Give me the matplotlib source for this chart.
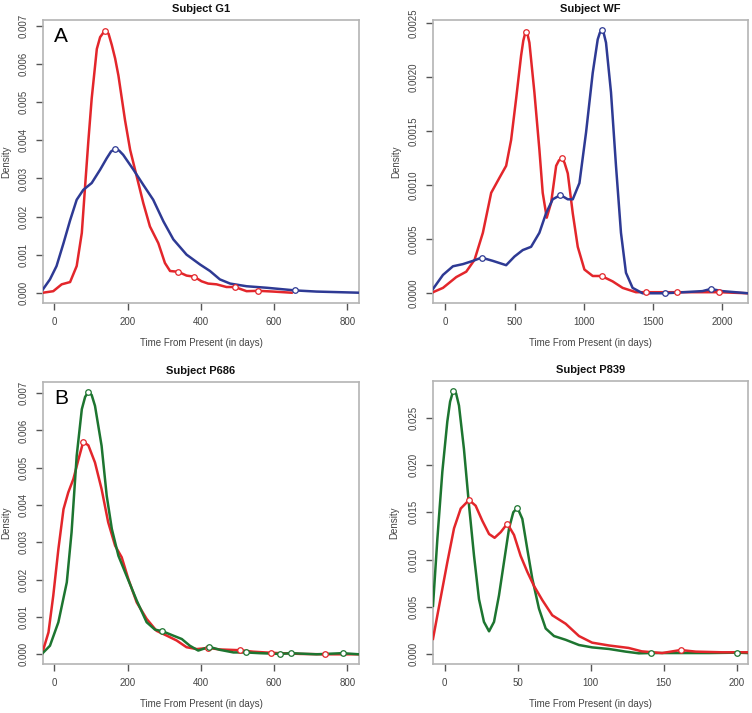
import matplotlib
matplotlib.use("Agg")
import matplotlib.pyplot as plt

plt.rcParams['font.family'] = ['Liberation Sans', 'DejaVu Sans']

RED = '#e3262b'
BLUE = '#2e3a94'
GREEN = '#1d7530'

# Subject G1
g1_red_x = [-31, -3, 20, 43, 61, 75, 84, 93, 102, 116, 125, 137, 148, 157, 166, 175, 193, 207, 225, 243,
            261, 284, 302, 316, 338, 361, 382, 402, 420, 443, 470, 493, 525, 557, 598, 648]
g1_red_y = [0.0, 0.00004, 0.00022, 0.00028, 0.0007, 0.00157, 0.0028, 0.0040, 0.0051, 0.0064, 0.00671,
            0.00687, 0.0068, 0.0065, 0.00615, 0.0057, 0.00453, 0.00375, 0.00305, 0.00235, 0.00174,
            0.0013, 0.00078, 0.00057, 0.00055, 0.00045, 0.00042, 0.0003, 0.00024, 0.00022, 0.00015,
            0.00015, 0.00004, 0.00005, 0.00003, 0.0]
g1_red_mk = [137, 338, 382, 493, 557]
g1_blue_x = [-31, -12, 6, 25, 43, 61, 79, 102, 125, 143, 155, 166, 177, 188, 216, 243, 270, 298, 325,
             361, 398, 425, 452, 480, 525, 580, 658, 716, 832]
g1_blue_y = [0.00009, 0.00035, 0.0007, 0.0013, 0.0019, 0.00244, 0.0027, 0.00288, 0.00323, 0.00353,
             0.00371, 0.00378, 0.00373, 0.00362, 0.00323, 0.00283, 0.00244, 0.00187, 0.0014, 0.001,
             0.00074, 0.00057, 0.00035, 0.00024, 0.00017, 0.00013, 0.00006, 0.00003, 0.0]
g1_blue_mk = [166, 658]

# Subject WF
wf_red_x = [-89, -17, 79, 151, 211, 271, 331, 391, 439, 475, 511, 547, 563, 579, 593, 607, 643, 679,
            703, 732, 764, 800, 820, 840, 860, 884, 920, 956, 1004, 1064, 1128, 1208, 1280, 1376, 1450,
            1670, 1976, 2185]
wf_red_y = [0.00001, 0.00005, 0.00015, 0.0002, 0.00031, 0.00056, 0.00093, 0.00107, 0.00118, 0.00142,
            0.0018, 0.0022, 0.00234, 0.00242, 0.0024, 0.00232, 0.00186, 0.00133, 0.00093, 0.0007,
            0.00084, 0.00118, 0.00123, 0.00125, 0.00121, 0.00111, 0.00074, 0.00043, 0.00022, 0.00016,
            0.00016, 0.00011, 0.00005, 0.00001, 0.00001, 0.00001, 0.00001, 0.0]
wf_red_mk = [579, 840, 1128, 1450, 1670, 1976]
wf_blue_x = [-89, -17, 55, 127, 199, 262, 343, 439, 499, 559, 619, 679, 727, 775, 831, 884, 920, 968,
             1016, 1064, 1100, 1115, 1131, 1145, 1160, 1196, 1232, 1268, 1304, 1352, 1424, 1587, 1856,
             1916, 2000, 2185]
wf_blue_y = [0.00004, 0.00017, 0.00025, 0.00027, 0.0003, 0.00033, 0.0003, 0.00026, 0.00034, 0.0004,
             0.00043, 0.00056, 0.00074, 0.00087, 0.00091, 0.00087, 0.00087, 0.00102, 0.00149, 0.00204,
             0.00235, 0.00241, 0.00244, 0.0024, 0.00232, 0.00186, 0.00118, 0.00056, 0.00019, 0.00005,
             0.0, 0.0, 0.00002, 0.00004, 0.00002, 0.0]
wf_blue_mk = [262, 831, 1131, 1587, 1916]

# Subject P686
p686_red_x = [-31, -16, -3, 11, 25, 38, 52, 66, 79, 93, 111, 129, 147, 166, 184, 202, 225, 252, 279,
              307, 334, 361, 389, 420, 452, 507, 543, 593, 671, 739, 832]
p686_red_y = [0.0001, 0.00059, 0.00157, 0.00282, 0.00389, 0.00434, 0.0047, 0.00523, 0.0057, 0.0056,
              0.00514, 0.00443, 0.00354, 0.00291, 0.0026, 0.00202, 0.00139, 0.00095, 0.00063, 0.0005,
              0.00037, 0.00019, 0.00014, 0.00017, 0.00013, 0.00011, 0.00007, 0.00004, 0.00001, 0.0, 0.0]
p686_red_mk = [79, 420, 507, 593, 739]
p686_green_x = [-31, -12, 11, 34, 47, 61, 75, 84, 93, 102, 111, 129, 143, 157, 175, 197, 225, 252, 275,
                295, 325, 348, 370, 393, 423, 452, 489, 523, 561, 616, 646, 716, 787, 832]
p686_green_y = [0.00004, 0.00023, 0.00086, 0.00193, 0.00327, 0.00532, 0.00657, 0.0069, 0.00704,
                0.00695, 0.00666, 0.00559, 0.00425, 0.00336, 0.00264, 0.00211, 0.00144, 0.00086,
                0.00066, 0.00062, 0.0005, 0.00041, 0.00023, 0.0001, 0.0002, 0.00012, 0.00005,
                0.00005, 0.00003, 0.00001, 0.00003, 0.0, 0.00003, 0.0]
p686_green_mk = [93, 295, 423, 523, 616, 646, 787]

# Subject P839
p839_green_x = [-8, -5, -1.6, 1.8, 3.7, 5.7, 7.8, 9.8, 13.2, 16.7, 20.1, 23.5, 26.9, 30.4, 33.8, 37.2,
                40.6, 44.1, 47, 49.8, 53.2, 56.6, 60, 64.6, 69.2, 74.9, 82.9, 92, 101, 112.6, 124, 133,
                141.3, 158, 181, 200, 207.8]
p839_green_y = [0.0051, 0.0122, 0.0193, 0.0246, 0.0267, 0.0278, 0.0276, 0.0263, 0.0217, 0.0157,
                0.0104, 0.0058, 0.0034, 0.0024, 0.0034, 0.0062, 0.0097, 0.0133, 0.015, 0.0155,
                0.0143, 0.0111, 0.008, 0.0048, 0.0027, 0.0019, 0.0015, 0.00095, 0.0007, 0.00053,
                0.00025, 0.00007, 0.0001, 0.0001, 0.0001, 0.00014, 0.0001]
p839_green_mk = [5.7, 49.8, 141.3, 200]
p839_red_x = [-8, -5, -1.6, 1.8, 6.4, 11, 16.7, 21.2, 25.8, 30.4, 34.2, 38.4, 42.9, 47.5, 52, 56.6,
              61.2, 66.9, 73.7, 82.9, 92, 101, 112.6, 126, 135, 149, 161.6, 172, 190, 207.8]
p839_red_y = [0.0016, 0.0041, 0.0069, 0.0097, 0.0133, 0.0154, 0.0163, 0.0157, 0.0141, 0.0127,
              0.0123, 0.0129, 0.0138, 0.0126, 0.0104, 0.0087, 0.0072, 0.0057, 0.0041, 0.0032,
              0.0019, 0.0012, 0.0009, 0.00064, 0.00028, 0.0001, 0.00042, 0.00025, 0.00018, 0.00018]
p839_red_mk = [16.7, 42.9, 161.6]

W, H = 752, 713
fig = plt.figure(figsize=(W / 100, H / 100), dpi=100)


def px_axes(l, t, r, b):
    return fig.add_axes([l / W, 1 - b / H, (r - l) / W, (b - t) / H])


def curve(ax, xs, ys, mks, col):
    ax.plot(xs, ys, color=col, lw=1.8, solid_joinstyle='round', zorder=3)
    my = [ys[xs.index(m)] for m in mks]
    ax.plot(mks, my, 'o', ms=4, mfc='white', mec=col, mew=0.9, zorder=4)


def style(ax, xlim, ylim, xt, yt, yfmt):
    ax.set_xlim(*xlim)
    ax.set_ylim(*ylim)
    ax.set_xticks(xt)
    ax.set_yticks(yt)
    ax.set_yticklabels([yfmt % v for v in yt], rotation=90, va='center')
    for s in ax.spines.values():
        s.set_color('#b4b4b4')
        s.set_linewidth(1.2)
    ax.tick_params(direction='out', length=5, width=1, color='#555555',
                   labelsize=7, labelcolor='#444444', pad=5)


panels = [
    dict(box=(43, 20, 359, 303), title='Subject G1', xlim=(-31, 832), ylim=(-0.00027, 0.00716),
         xt=[0, 200, 400, 600, 800], yt=[0.000, 0.001, 0.002, 0.003, 0.004, 0.005, 0.006, 0.007],
         fmt='%.3f', series=[(g1_red_x, g1_red_y, g1_red_mk, RED), (g1_blue_x, g1_blue_y, g1_blue_mk, BLUE)],
         letter='A', ylab_x=6),
    dict(box=(433, 20, 748, 303), title='Subject WF', xlim=(-89, 2185), ylim=(-0.00009, 0.00253),
         xt=[0, 500, 1000, 1500, 2000], yt=[0.0, 0.0005, 0.001, 0.0015, 0.002, 0.0025],
         fmt='%.4f', series=[(wf_red_x, wf_red_y, wf_red_mk, RED), (wf_blue_x, wf_blue_y, wf_blue_mk, BLUE)],
         letter=None, ylab_x=396),
    dict(box=(43, 382, 359, 664), title='Subject P686', xlim=(-31, 832), ylim=(-0.00026, 0.0073),
         xt=[0, 200, 400, 600, 800], yt=[0.000, 0.001, 0.002, 0.003, 0.004, 0.005, 0.006, 0.007],
         fmt='%.3f', series=[(p686_red_x, p686_red_y, p686_red_mk, RED),
                             (p686_green_x, p686_green_y, p686_green_mk, GREEN)],
         letter='B', ylab_x=6),
    dict(box=(433, 381, 748, 664), title='Subject P839', xlim=(-8, 207.8), ylim=(-0.00106, 0.0289),
         xt=[0, 50, 100, 150, 200], yt=[0.000, 0.005, 0.010, 0.015, 0.020, 0.025],
         fmt='%.3f', series=[(p839_green_x, p839_green_y, p839_green_mk, GREEN),
                             (p839_red_x, p839_red_y, p839_red_mk, RED)],
         letter=None, ylab_x=394),
]

for p in panels:
    l, t, r, b = p['box']
    ax = px_axes(l, t, r, b)
    for xs, ys, mks, col in p['series']:
        curve(ax, xs, ys, mks, col)
    style(ax, p['xlim'], p['ylim'], p['xt'], p['yt'], p['fmt'])
    cx = (l + r) / 2
    fig.text(cx / W, 1 - (t - 11) / H, p['title'], ha='center', va='center',
             fontsize=8, fontweight='bold', color='#111111')
    fig.text(cx / W, 1 - (b + 40) / H, 'Time From Present (in days)', ha='center', va='center',
             fontsize=7, color='#444444')
    fig.text(p['ylab_x'] / W, 1 - ((t + b) / 2) / H, 'Density', ha='center', va='center',
             rotation=90, fontsize=7, color='#444444')
    if p['letter']:
        fig.text((l + 18) / W, 1 - (t + 16) / H, p['letter'], ha='center', va='center',
                 fontsize=15, color='black')

fig.savefig('out.png', dpi=100)
